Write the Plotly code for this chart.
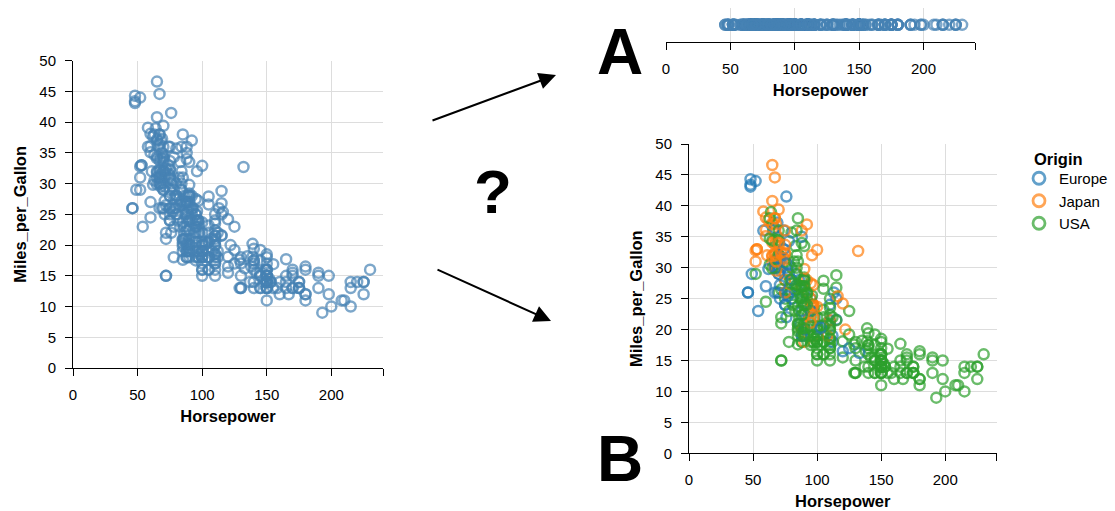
import plotly.graph_objects as go

# ---------------- data (cars dataset, in source order) ----------------
horsepower = [
    130, 165, 150, 150, 140, 198, 220, 215, 225, 190, 115, 165, 153, 175, 175, 170, 160, 140, 150, 225,
    95, 95, 97, 85, 88, 46, 87, 90, 95, 113, 90, 215, 200, 210, 193,
    88, 90, 95, None, 48, 100, 105, 100, 88, 100, 165, 175, 153, 150, 180, 170, 175, 110, 72, 100,
    88, 86, 90, 70, 76, 65, 69, 60, 70,
    95, 80, 54, 90, 86, 165, 175, 150, 153, 150, 208, 155, 160, 190, 97, 150, 130, 140, 150, 112,
    76, 87, 69, 86, 92, 97, 80, 88,
    175, 150, 145, 137, 150, 198, 150, 158, 150, 215, 225, 175, 105, 100, 100, 88, 95, 46, 150, 167,
    170, 180, 100, 88, 72, 94, 90, 85, 107, 90, 145, 230, 49, 75, 91, 112, 150, 110, 122, 180,
    95, None, 100, 100, 67, 80, 65, 75, 100, 110, 105, 140, 150, 150, 140, 150, 83, 67, 78, 52,
    61, 75, 75, 75, 97, 93, 67,
    95, 105, 72, 72, 170, 145, 150, 148, 110, 105, 110, 95, 110, 110, 129, 75, 83, 100, 78, 96,
    71, 97, 97, 70, 90, 95, 88, 98, 115, 53, 86, 81, 92, 79, 83,
    140, 150, 120, 152, 100, 105, 81, 90, 52, 60, 70, 53, 100, 78, 110, 95, 71, 70, 75, 72,
    102, 150, 88, 108, 120, 180, 145, 130, 150, 68,
    80, 58, 96, 70, 145, 110, 145, 130, 110, 105, 100, 98, 180, 170, 190, 149, 78, 88, 75, 89,
    63, 83, 67, 78, 97, 110, 110,
    48, 66, 52, 70, 60, 110, 140, 139, 105, 95, 85, 88, 100, 90, 105, 85, 110, 120, 145, 165,
    139, 140, 68, 95, 97, 75, 95, 105, 85, 97, 103, 125, 115, 133, 71, 68,
    115, 85, 88, 90, 110, 130, 129, 138, 135, 155, 142, 125, 150, 71, 65, 80, 80, 77, 125, 71,
    90, 70, 70, 65, 69, 90, 115, 115, 90,
    76, 60, 70, 65, 90, 88, 90, 90, 78, 90, 75, 92, 75, 65, 105, 65, 48, 48, 67, 67,
    67, None, 67, 62, 132, 100, 88, None, 72,
    84, 84, 92, 110, 84, 58, 64, 60, 67, 65, 62, 68, 63, 65, 65, 74, None, 75, 75, 100,
    74, 80, 110, 76, 116, 120, 110, 105, 88, 85,
    88, 88, 88, 85, 84, 90, 92, None, 74, 68, 68, 63, 70, 88, 75, 70, 67, 67, 67, 110,
    85, 92, 112, 96, 84, 90, 86, 52, 84, 79, 82,
]

miles_per_gallon = [
    18, 15, 18, 16, 17, 15, 14, 14, 14, 15, None, None, None, None, None, 15, 14, None, 15, 14,
    24, 22, 18, 21, 27, 26, 25, 24, 25, 26, 21, 10, 10, 11, 9,
    27, 28, 25, 25, None, 19, 16, 17, 19, 18, 14, 14, 14, 14, 12, 13, 13, 18, 22, 19,
    18, 23, 28, 30, 30, 31, 35, 27, 26,
    24, 25, 23, 20, 21, 13, 14, 15, 14, 17, 11, 13, 12, 13, 19, 15, 13, 13, 14, 18,
    22, 21, 26, 22, 28, 23, 28, 27,
    13, 14, 13, 14, 15, 12, 13, 13, 14, 13, 12, 13, 18, 16, 18, 18, 23, 26, 11, 12,
    13, 12, 18, 20, 21, 22, 18, 19, 21, 26, 15, 16, 29, 24, 20, 19, 15, 24, 20, 11,
    20, 21, 19, 15, 31, 26, 32, 25, 16, 16, 18, 16, 13, 14, 14, 14, 29, 26, 26, 31,
    32, 28, 24, 26, 24, 26, 31,
    19, 18, 15, 15, 16, 15, 16, 14, 17, 16, 15, 18, 21, 20, 13, 29, 23, 20, 23, 24,
    25, 24, 18, 29, 19, 23, 23, 22, 25, 33, 28, 25, 25, 26, 27,
    17.5, 16, 15.5, 14.5, 22, 22, 24, 22.5, 29, 24.5, 29, 33, 20, 18, 18.5, 17.5, 29.5, 32, 28, 26.5,
    20, 13, 19, 19, 16.5, 16.5, 13, 13, 13, 31.5,
    30, 36, 25.5, 33.5, 17.5, 17, 15.5, 15, 17.5, 20.5, 19, 18.5, 16, 15.5, 15.5, 16, 29, 24.5, 26, 25.5,
    30.5, 33.5, 30, 30.5, 22, 21.5, 21.5,
    43.1, 36.1, 32.8, 39.4, 36.1, 19.9, 19.4, 20.2, 19.2, 20.5, 20.2, 25.1, 20.5, 19.4, 20.6, 20.8, 18.6, 18.1, 19.2, 17.7,
    18.1, 17.5, 30, 27.5, 27.2, 30.9, 21.1, 23.2, 23.8, 23.9, 20.3, 17, 21.6, 16.2, 31.5, 29.5,
    21.5, 19.8, 22.3, 20.2, 20.6, 17, 17.6, 16.5, 18.2, 16.9, 15.5, 19.2, 18.5, 31.9, 34.1, 35.7, 27.4, 25.4, 23, 27.2,
    23.9, 34.2, 34.5, 31.8, 37.3, 28.4, 28.8, 26.8, 33.5,
    41.5, 38.1, 32.1, 37.2, 28, 26.4, 24.3, 19.1, 34.3, 29.8, 31.3, 37, 32.2, 46.6, 27.9, 40.8, 44.3, 43.4, 36.4, 30,
    44.6, 40.9, 33.8, 29.8, 32.7, 23.7, 35, 23.6, 32.4,
    27.2, 26.6, 25.8, 23.5, 30, 39.1, 39, 35.1, 32.3, 37, 37.7, 34.1, 34.7, 34.4, 29.9, 33, 34.5, 33.7, 32.4, 32.9,
    31.6, 28.1, None, 30.7, 25.4, 24.2, 22.4, 26.6, 20.2, 17.6,
    28, 27, 34, 31, 29, 27, 24, 23, 36, 37, 31, 38, 36, 36, 36, 34, 38, 32, 38, 25,
    38, 26, 22, 32, 36, 27, 27, 44, 32, 28, 31,
]

origin_codes = list(
    "UUUUUUUUUU" "E" "UUUUUUUUU" "JUUUJ" "EEEEE" "UUUUU"                                  # 1970
    "JUJUE" "UUUUUUUUUU" "UUUUUUU" "EEEJJEU"                                              # 1971
    "JUEUU" "UUUUUUUUU" "J" "UUUU" "EEEE" "UJJUJ"                                         # 1972
    "UUUUUUUUUU" "UUUUUUU" "E" "UUUUU" "J" "U" "JJ" "UU" "E" "UU" "EEEE" "U" "E" "J" "U"  # 1973
    "UUUU" "J" "U" "J" "UUUUUUUUU" "EEE" "JJ" "U" "EE" "JJ" "E"                           # 1974
    "UUUUUUUUUU" "UUUUU" "J" "UUU" "J" "E" "J" "U" "E" "U" "EEEE" "J" "EE" "UU" "E"       # 1975
    "UUUUUUUUUU" "E" "J" "UUUU" "E" "JJ" "U" "E" "U" "E" "J" "E" "UUUU" "J"               # 1976
    "U" "E" "U" "J" "UUUUUUUUUU" "UU" "E" "U" "J" "UUU" "J" "E" "J" "E" "J"               # 1977
    "E" "U" "JJJ" "UUUUUUUUUU" "UUUUUUUU" "JJ" "U" "J" "UU" "J" "EEEEE" "J"               # 1978
    "UUUUUUUUUU" "UUU" "E" "J" "UU" "E" "U" "E" "UUU" "J" "E" "UUUU"                      # 1979
    "EJUJUUUUEJJJJJUJEEEEJEJEJJEUJ"                                                       # 1980
    "UUUUU" "J" "U" "JJJJJ" "UUU" "EE" "JJJJ" "EEE" "JJ" "UUUU"                           # 1981
    "UUUUUUUU" "E" "JJ" "UU" "JJJJJJ" "UUUU" "J" "UUU" "E" "UUU"                          # 1982
)

origin_names = {"E": "Europe", "J": "Japan", "U": "USA"}
legend_order = ["E", "J", "U"]

x_ticks = [0, 50, 100, 150, 200]
y_ticks = [0, 5, 10, 15, 20, 25, 30, 35, 40, 45, 50]

# ---------------- styling ----------------
FONT = "Liberation Sans, Arial, Helvetica, sans-serif"
BASE_COLOR = "#4682b4"
ORIGIN_COLORS = {"E": "#1f77b4", "J": "#ff7f0e", "U": "#2ca02c"}
MSIZE = 10
MLINE = 2.5
OPAC = 0.7
TICK_FS = 15
TITLE_FS = 16.5

n = min(len(horsepower), len(miles_per_gallon), len(origin_codes))
print("lengths", len(horsepower), len(miles_per_gallon), len(origin_codes))

both = [i for i in range(n) if horsepower[i] is not None and miles_per_gallon[i] is not None]
hp_only = [i for i in range(n) if horsepower[i] is not None]

hp_xy = [horsepower[i] for i in both]
mpg_xy = [miles_per_gallon[i] for i in both]
org_xy = [origin_codes[i] for i in both]
hp_strip = [horsepower[i] for i in hp_only]

fig = go.Figure()

# Left: plain scatter
fig.add_trace(go.Scatter(
    x=hp_xy, y=mpg_xy, mode="markers", xaxis="x", yaxis="y", showlegend=False,
    marker=dict(symbol="circle-open", size=MSIZE, color=BASE_COLOR, opacity=OPAC,
                line=dict(width=MLINE)),
    hoverinfo="skip",
))

# A: strip of horsepower
fig.add_trace(go.Scatter(
    x=hp_strip, y=[0] * len(hp_strip), mode="markers", xaxis="x2", yaxis="y2", showlegend=False,
    marker=dict(symbol="circle-open", size=MSIZE, color=BASE_COLOR, opacity=OPAC,
                line=dict(width=MLINE)),
    hoverinfo="skip",
))

# B: coloured by origin (data order)
fig.add_trace(go.Scatter(
    x=hp_xy, y=mpg_xy, mode="markers", xaxis="x3", yaxis="y3", showlegend=False,
    marker=dict(symbol="circle-open", size=MSIZE, color=[ORIGIN_COLORS[c] for c in org_xy],
                opacity=OPAC, line=dict(width=MLINE)),
    hoverinfo="skip",
))
for code in legend_order:
    fig.add_trace(go.Scatter(
        x=[None], y=[None], mode="markers", xaxis="x3", yaxis="y3", name=origin_names[code],
        marker=dict(symbol="circle-open", size=MSIZE + 2, color=ORIGIN_COLORS[code], opacity=OPAC,
                    line=dict(width=2.8)),
    ))

W, H = 1115, 511


def px_x(v):
    return v / W


def px_y(v):
    return 1 - v / H


def xaxis(domain, anchor, standoff):
    return dict(
        domain=domain, anchor=anchor, range=[0, 240], tickvals=x_ticks, ticks="outside", ticklen=7,
        tickcolor="black", tickwidth=1, showline=True, linecolor="black", linewidth=1,
        showgrid=True, gridcolor="#dddddd", gridwidth=1, zeroline=False,
        tickfont=dict(size=TICK_FS, color="black"), automargin=False, ticklabelstandoff=6,
        minor=dict(tickvals=[240], ticks="outside", ticklen=7, tickcolor="black", showgrid=False),
        title=dict(text="<b>Horsepower</b>", font=dict(size=TITLE_FS, color="black"), standoff=standoff),
    )


def yaxis(domain, anchor):
    return dict(
        domain=domain, anchor=anchor, range=[0, 50], tickvals=y_ticks, ticks="outside", ticklen=7,
        tickcolor="black", tickwidth=1, showline=True, linecolor="black", linewidth=1,
        showgrid=True, gridcolor="#dddddd", gridwidth=1, zeroline=False,
        tickfont=dict(size=TICK_FS, color="black"), automargin=False, ticklabelstandoff=6,
        title=dict(text="<b>Miles_per_Gallon</b>", font=dict(size=TITLE_FS, color="black"), standoff=8),
    )


layout = dict(
    width=W, height=H, margin=dict(l=0, r=0, t=0, b=0),
    paper_bgcolor="white", plot_bgcolor="white",
    font=dict(family=FONT, color="black"),
    xaxis=xaxis([px_x(73), px_x(383)], "y", 8),
    yaxis=yaxis([px_y(368), px_y(60.7)], "x"),
    xaxis2=xaxis([px_x(666), px_x(975)], "y2", 8),
    yaxis2=dict(domain=[px_y(41.7), px_y(8)], anchor="x2", range=[-1, 1], visible=False),
    xaxis3=xaxis([px_x(689), px_x(996.5)], "y3", 8),
    yaxis3=yaxis([px_y(453.3), px_y(144)], "x3"),
    showlegend=True,
    legend=dict(
        x=px_x(1019), y=px_y(162), xanchor="left", yanchor="top",
        font=dict(size=TICK_FS), bgcolor="rgba(0,0,0,0)", tracegroupgap=0,
    ),
)
fig.update_layout(**layout)

# legend title
fig.add_annotation(
    x=px_x(1032), y=px_y(159), xref="paper", yref="paper", text="<b>Origin</b>",
    showarrow=False, xanchor="left", yanchor="middle", font=dict(size=TITLE_FS, color="black"),
)

# letters and question mark
for txt, cx, cy, fs in [("A", 620, 51.5, 64), ("B", 619.5, 458.5, 64), ("?", 493, 191.5, 62)]:
    fig.add_annotation(
        x=px_x(cx), y=px_y(cy), xref="paper", yref="paper", text=f"<b>{txt}</b>",
        showarrow=False, xanchor="center", yanchor="middle",
        font=dict(size=fs, color="black", family=FONT),
    )

# arrows
for (tx, ty, hx, hy) in [(431, 121, 556, 75), (436, 269, 551, 321)]:
    fig.add_annotation(
        x=px_x(hx), y=px_y(hy), xref="paper", yref="paper", ax=tx - hx, ay=ty - hy,
        axref="pixel", ayref="pixel", text="", showarrow=True,
        arrowhead=2, arrowsize=1.7, arrowwidth=2, arrowcolor="black",
    )

fig.write_html(
    "out.html",
    config={"displayModeBar": False},
    post_script="document.body.style.margin='0';document.body.style.padding='0';",
)
